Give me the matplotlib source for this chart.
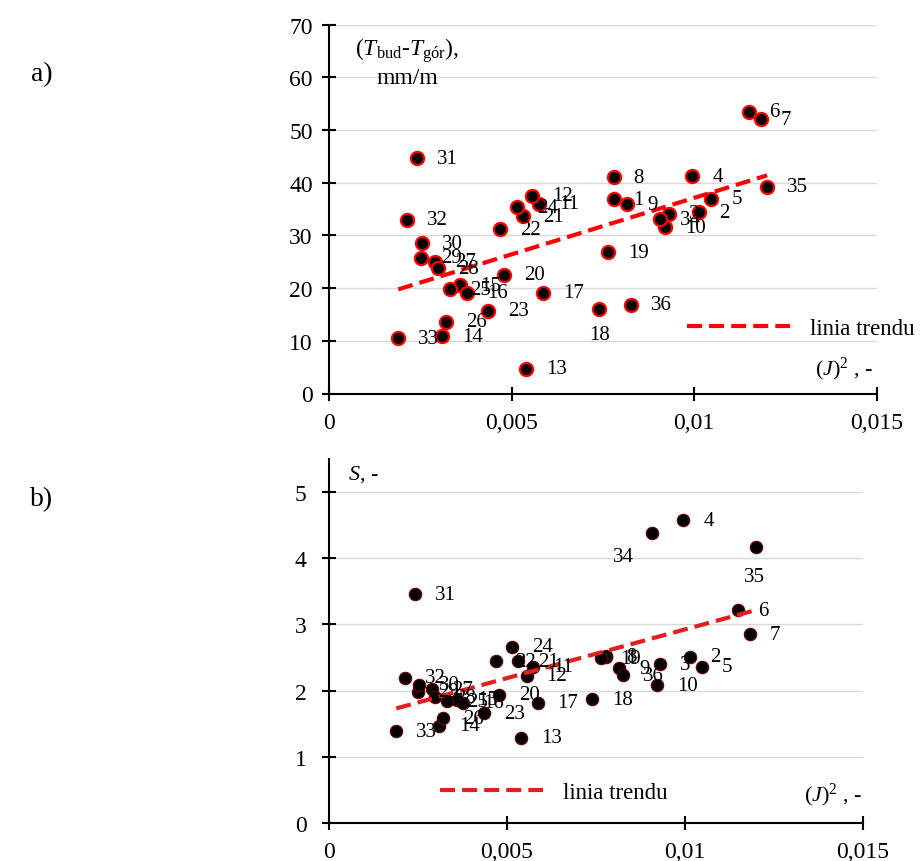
import numpy as np
import matplotlib.pyplot as plt

plt.rcParams['font.family'] = ['Liberation Serif', 'DejaVu Serif']
plt.rcParams['mathtext.fontset'] = 'custom'
plt.rcParams['mathtext.rm'] = 'Liberation Serif'
plt.rcParams['mathtext.it'] = 'Liberation Serif:italic'

# numer punktu pomiarowego
point_no = list(range(1, 37))
# (J)^2, -
j2 = [0.00779, 0.01013, 0.00930, 0.00995, 0.01047, 0.01150, 0.01182, 0.00779,
      0.00816, 0.00921, 0.00574, 0.00555, 0.00539, 0.00310, 0.00359, 0.00377,
      0.00586, 0.00740, 0.00763, 0.00478, 0.00532, 0.00468, 0.00436, 0.00514,
      0.00331, 0.00320, 0.00290, 0.00299, 0.00251, 0.00254, 0.00241, 0.00214,
      0.00189, 0.00907, 0.01200, 0.00827]
# (Tbud - Tgor), mm/m
t_diff = [36.9, 34.4, 34.1, 41.2, 37.0, 53.5, 52.0, 41.0,
          35.9, 31.5, 36.0, 37.5, 4.7, 10.9, 20.5, 19.1,
          19.1, 16.0, 26.8, 22.5, 33.6, 31.2, 15.7, 35.3,
          19.8, 13.6, 25.0, 23.8, 25.8, 28.5, 44.6, 33.0,
          10.5, 33.1, 39.2, 16.8]
# S, -
s_val = [2.50, 2.51, 2.40, 4.57, 2.36, 3.21, 2.85, 2.52,
         2.34, 2.08, 2.36, 2.22, 1.29, 1.47, 1.86, 1.82,
         1.82, 1.87, 2.49, 1.94, 2.44, 2.44, 1.66, 2.66,
         1.84, 1.58, 2.02, 1.90, 1.98, 2.09, 3.45, 2.19,
         1.39, 4.37, 4.17, 2.23]

x_ticks = [0, 0.005, 0.01, 0.015]
x_tick_labels = ['0', '0,005', '0,01', '0,015']
y1_ticks = [0, 10, 20, 30, 40, 50, 60, 70]
y2_ticks = [0, 1, 2, 3, 4, 5]

W, H = 924, 862
fig = plt.figure(figsize=(W / 100, H / 100), dpi=100)
ax1 = fig.add_axes([329.3 / W, 1 - 394.5 / H, 547.3 / W, 368.9 / H])
ax2 = fig.add_axes([329.0 / W, 1 - 824.2 / H, 534.0 / W, 364.7 / H])


def style_axes(ax, yticks, ylim, ypad):
    ax.set_xlim(0, 0.015)
    ax.set_ylim(*ylim)
    ax.set_xticks(x_ticks)
    ax.set_xticklabels(x_tick_labels)
    ax.set_yticks(yticks)
    ax.spines['top'].set_visible(False)
    ax.spines['right'].set_visible(False)
    for s in ('left', 'bottom'):
        ax.spines[s].set_linewidth(1.5)
    ax.tick_params(direction='inout', length=10, width=1.5, labelsize=17)
    ax.tick_params(axis='x', pad=8)
    ax.tick_params(axis='y', pad=ypad)
    ax.yaxis.grid(True, color='#d9d9d9', lw=1)
    ax.set_axisbelow(True)


style_axes(ax1, y1_ticks, (0, 70), 7)
style_axes(ax2, y2_ticks, (0, 5.5), 11)

x = np.array(j2)
xs = np.array([x.min(), x.max()])

# a) roznica temperatur
ax1.scatter(x, t_diff, s=90, facecolor='black', edgecolor='red', linewidths=1.6, zorder=3)
coef1 = np.polyfit(x, t_diff, 1)
ax1.plot(xs, np.polyval(coef1, xs), color='red', lw=3, dashes=(3.6, 1.7),
         label='linia trendu', zorder=4)

# b) S
ax2.scatter(x, s_val, s=80, facecolor='black', edgecolor='#6b0000', linewidths=0.8, zorder=3)
coef2 = np.polyfit(x, s_val, 1)
ax2.plot(xs, np.polyval(coef2, xs), color='#e02020', lw=3, dashes=(3.6, 1.7),
         label='linia trendu', zorder=4)

# etykiety punktow
special1 = {18: (0, -25, 'center')}
special2 = {34: (-28, -23, 'center'), 35: (-2, -30, 'center')}
for ax, yv, special in ((ax1, t_diff, special1), (ax2, s_val, special2)):
    for n, xv, v in zip(point_no, j2, yv):
        dx, dy, ha = special.get(n, (20, 0, 'left'))
        ax.annotate(str(n), (xv, v), xytext=(dx, dy), textcoords='offset pixels',
                    ha=ha, va='center', fontsize=15, zorder=5)

# legendy
ax1.legend(loc='center left', bbox_to_anchor=(687 / W, 1 - 329 / H),
           bbox_transform=fig.transFigure, frameon=False, fontsize=16.5,
           handlelength=4.5, handletextpad=0.85, borderpad=0, borderaxespad=0)
ax2.legend(loc='center left', bbox_to_anchor=(440 / W, 1 - 793 / H),
           bbox_transform=fig.transFigure, frameon=False, fontsize=16.5,
           handlelength=4.5, handletextpad=0.85, borderpad=0, borderaxespad=0)

# opisy osi
fig.text(407 / W, 1 - 51 / H, r'($\mathit{T}_{\rm bud}$-$\mathit{T}_{\rm gór}$),',
         ha='center', va='center', fontsize=17)
fig.text(407 / W, 1 - 78 / H, 'mm/m', ha='center', va='center', fontsize=17)
fig.text(873 / W, 1 - 369 / H, r'$(\mathit{J})^2$ , -', ha='right', va='center', fontsize=16)
fig.text(348 / W, 1 - 475 / H, r'$\mathit{S}$, -', ha='left', va='center', fontsize=16)
fig.text(862 / W, 1 - 795 / H, r'$(\mathit{J})^2$ , -', ha='right', va='center', fontsize=16)

fig.text(42 / W, 1 - 75 / H, 'a)', ha='center', va='center', fontsize=20)
fig.text(42 / W, 1 - 500 / H, 'b)', ha='center', va='center', fontsize=20)

fig.savefig('out.png', dpi=100)
